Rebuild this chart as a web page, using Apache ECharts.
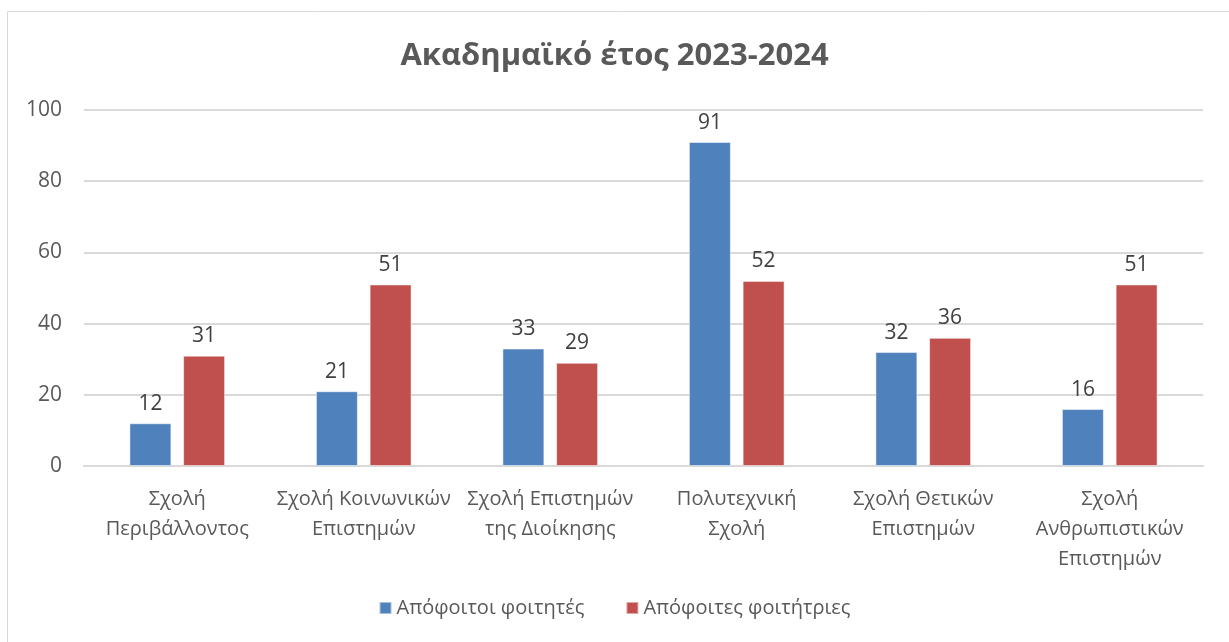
<!DOCTYPE html>
<html>
<head>
<meta charset="utf-8">
<script src="https://cdn.jsdelivr.net/npm/echarts@6/dist/echarts.min.js"></script>
<style>
  html, body { margin: 0; padding: 0; background: #fff; }
  #main { width: 1229px; height: 642px; }
</style>
</head>
<body>
<div id="main"></div>
<script>
    // σχολές (κατηγορίες)
    let categories = [
        'Σχολή\nΠεριβάλλοντος',
        'Σχολή Κοινωνικών\nΕπιστημών',
        'Σχολή Επιστημών\nτης Διοίκησης',
        'Πολυτεχνική\nΣχολή',
        'Σχολή Θετικών\nΕπιστημών',
        'Σχολή\nΑνθρωπιστικών\nΕπιστημών'
    ];
    let seriesNames = ['Απόφοιτοι φοιτητές', 'Απόφοιτες φοιτήτριες'];
    let maleValues = [12, 21, 33, 91, 32, 16];
    let femaleValues = [31, 51, 29, 52, 36, 51];
    let yTicks = { min: 0, max: 100, interval: 20 };

    let textColor = '#595959';
    let fontFamily = '"Open Sans", "Noto Sans", sans-serif';

    let barSeries = (name, data, color) => ({
        name: name,
        type: 'bar',
        data: data,
        barWidth: '22.5%',
        barGap: '28%',
        itemStyle: {
            color: color,
            borderColor: 'rgba(255,255,255,0.5)',
            borderWidth: 1
        },
        label: {
            show: true,
            position: 'top',
            distance: 9,
            color: '#404040',
            fontSize: 21,
            fontFamily: fontFamily
        }
    });

    let chart = echarts.init(document.getElementById('main'), null, { renderer: 'canvas' });
    chart.setOption({
        animation: false,
        backgroundColor: '#fff',
        graphic: [{
            type: 'rect',
            shape: { x: 7.5, y: 11.5, width: 1260, height: 680 },
            style: { fill: 'none', stroke: '#d9d9d9', lineWidth: 1 },
            silent: true
        }],
        title: {
            text: 'Ακαδημαϊκό έτος 2023-2024',
            left: 'center',
            top: 36,
            textStyle: {
                color: textColor,
                fontSize: 31,
                fontWeight: 'bold',
                fontFamily: fontFamily
            }
        },
        legend: {
            bottom: 19,
            left: 'center',
            itemWidth: 12,
            itemHeight: 12,
            itemGap: 41,
            icon: 'rect',
            textStyle: { color: textColor, fontSize: 20, fontFamily: fontFamily }
        },
        grid: { left: 84, right: 26, top: 110, bottom: 176 },
        xAxis: {
            type: 'category',
            data: categories,
            axisLine: { show: true, lineStyle: { color: '#d9d9d9', width: 2 } },
            axisTick: { show: false },
            axisLabel: {
                interval: 0,
                color: textColor,
                fontSize: 20,
                lineHeight: 30,
                margin: 18,
                fontFamily: fontFamily
            }
        },
        yAxis: {
            type: 'value',
            min: yTicks.min,
            max: yTicks.max,
            interval: yTicks.interval,
            axisLine: { show: false },
            axisTick: { show: false },
            splitLine: { lineStyle: { color: '#d9d9d9', width: 2 } },
            axisLabel: { color: textColor, fontSize: 21, margin: 22, fontFamily: fontFamily }
        },
        series: [
            barSeries(seriesNames[0], maleValues, '#4f81bd'),
            barSeries(seriesNames[1], femaleValues, '#c0504d')
        ]
    });
</script>
</body>
</html>
